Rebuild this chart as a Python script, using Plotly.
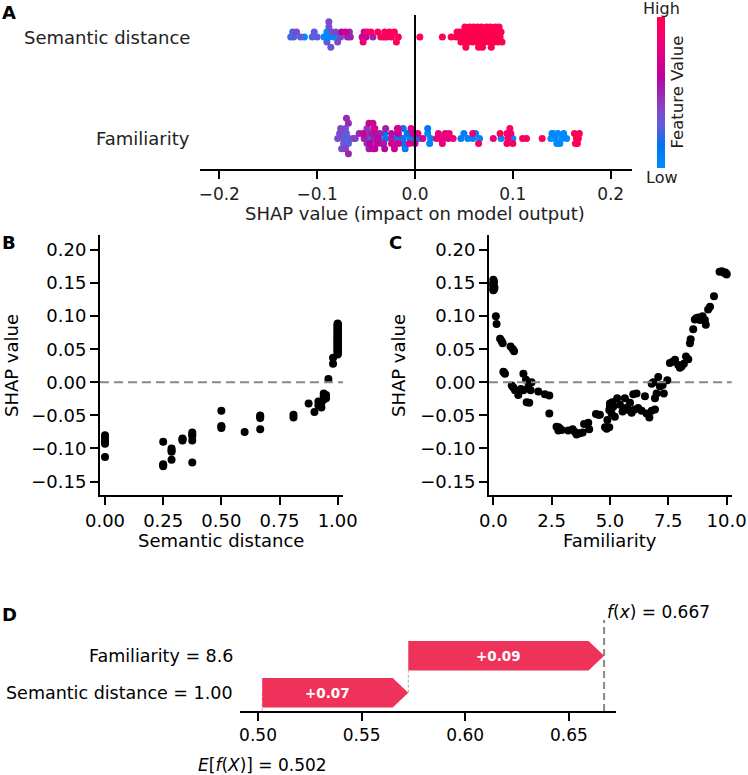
import numpy as np
import plotly.graph_objects as go

W, H = 748, 775
FONT = "DejaVu Sans"

# ---------------- DATA ----------------
# Panel B: (semantic distance value, SHAP value)
sem_points = [
    (0.0, -0.080), (0.0, -0.083), (0.0, -0.088), (0.0, -0.093), (0.0, -0.090), (0.0, -0.113),
    (0.25, -0.090), (0.25, -0.124), (0.25, -0.127), (0.25, -0.125),
    (0.286, -0.100), (0.286, -0.105), (0.286, -0.117), (0.286, -0.103),
    (0.333, -0.085), (0.333, -0.088), (0.333, -0.086),
    (0.375, -0.076), (0.375, -0.081), (0.375, -0.088), (0.375, -0.121), (0.375, -0.079),
    (0.5, -0.043), (0.5, -0.066), (0.5, -0.069), (0.5, -0.067),
    (0.6, -0.075),
    (0.667, -0.050), (0.667, -0.054), (0.667, -0.071), (0.667, -0.052),
    (0.81, -0.049), (0.81, -0.053),
    (0.875, -0.032), (0.90, -0.045), (0.917, -0.029), (0.917, -0.035),
    (0.93, -0.031), (0.93, -0.038), (0.94, -0.017), (0.94, -0.021), (0.94, -0.026),
    (0.95, -0.019), (0.95, -0.024), (0.96, 0.005), (0.98, 0.037), (0.98, 0.028),
    (1.0, 0.042), (1.0, 0.043), (1.0, 0.045), (1.0, 0.046), (1.0, 0.047), (1.0, 0.048),
    (1.0, 0.049), (1.0, 0.050), (1.0, 0.051), (1.0, 0.052), (1.0, 0.053), (1.0, 0.054),
    (1.0, 0.055), (1.0, 0.056), (1.0, 0.057), (1.0, 0.058), (1.0, 0.059), (1.0, 0.060),
    (1.0, 0.061), (1.0, 0.062), (1.0, 0.063), (1.0, 0.064), (1.0, 0.065), (1.0, 0.066),
    (1.0, 0.066), (1.0, 0.067), (1.0, 0.068), (1.0, 0.069), (1.0, 0.070), (1.0, 0.071),
    (1.0, 0.072), (1.0, 0.073), (1.0, 0.074), (1.0, 0.075), (1.0, 0.076), (1.0, 0.077),
    (1.0, 0.078), (1.0, 0.079), (1.0, 0.080), (1.0, 0.081), (1.0, 0.082), (1.0, 0.083),
    (1.0, 0.084), (1.0, 0.085), (1.0, 0.086), (1.0, 0.087), (1.0, 0.088), (1.0, 0.089),
]

# Panel C: (familiarity value, SHAP value)
fam_points = [
    (0.0, 0.155), (0.0, 0.150), (0.02, 0.146), (0.0, 0.139), (0.05, 0.143), (0.0, 0.148),
    (0.03, 0.152), (0.0, 0.141), (0.0, 0.145), (0.02, 0.140),
    (0.11, 0.100), (0.14, 0.088),
    (0.29, 0.066), (0.40, 0.059), (0.36, 0.062),
    (0.43, 0.016), (0.50, 0.013), (0.46, 0.015),
    (0.74, 0.054), (0.89, 0.047), (0.84, 0.050),
    (0.79, -0.005), (0.93, -0.012), (1.07, -0.019), (0.86, -0.008),
    (1.29, 0.013), (1.40, 0.004), (1.29, -0.012), (1.43, -0.030), (1.54, -0.031),
    (1.50, -0.007), (1.64, 0.000), (1.60, -0.012), (1.18, -0.010),
    (1.93, -0.014), (2.21, -0.018), (2.40, -0.020),
    (2.40, -0.047),
    (2.71, -0.067), (2.79, -0.073), (2.86, -0.070), (2.93, -0.072), (2.80, -0.068),
    (3.21, -0.073), (3.40, -0.071), (3.57, -0.079), (3.71, -0.077), (3.83, -0.076), (3.50, -0.075),
    (3.89, -0.063), (4.07, -0.061), (4.11, -0.071),
    (4.40, -0.048), (4.57, -0.049), (4.50, -0.049),
    (4.79, -0.068), (4.97, -0.068), (4.89, -0.057), (4.86, -0.070),
    (4.97, -0.042), (5.00, -0.032), (5.07, -0.047), (5.14, -0.037), (5.21, -0.052),
    (5.31, -0.024), (5.00, -0.036), (5.10, -0.030),
    (5.43, -0.034), (5.54, -0.044), (5.64, -0.024), (5.74, -0.038), (5.86, -0.031),
    (5.93, -0.046), (5.60, -0.041), (5.80, -0.042),
    (6.00, -0.018), (6.14, -0.017), (6.21, -0.039), (6.36, -0.043), (6.50, -0.021),
    (6.57, -0.047), (6.69, -0.053), (6.79, -0.043), (6.93, -0.041), (6.07, -0.041),
    (6.79, -0.002), (6.93, -0.024), (7.00, -0.017), (7.07, 0.008), (7.14, -0.006),
    (7.26, -0.004), (7.31, -0.017), (7.46, 0.003), (6.86, 0.000),
    (7.57, 0.029), (7.69, 0.031), (7.79, 0.034), (7.93, 0.026), (8.07, 0.024),
    (8.17, 0.028), (8.26, 0.039), (8.36, 0.035), (8.00, 0.022),
    (8.43, 0.059), (8.46, 0.065), (8.57, 0.080), (8.64, 0.095), (8.79, 0.098),
    (8.86, 0.094), (8.97, 0.100), (9.07, 0.094), (9.11, 0.087), (8.71, 0.097),
    (9.21, 0.110), (9.29, 0.114), (9.46, 0.130),
    (9.70, 0.167), (9.80, 0.168), (9.90, 0.165), (10.0, 0.163), (9.95, 0.166), (10.0, 0.164),
]

summary_rows = ["Familiarity", "Semantic distance"]   # row 0 (bottom), row 1 (top)

wf_features = ["Semantic distance", "Familiarity"]   # bottom -> top
wf_value_text = ["1.00", "8.6"]
wf_shap = [0.0705, 0.0945]
base_value = 0.502

a_xticks = [-0.2, -0.1, 0.0, 0.1, 0.2]
b_xticks = [0.0, 0.25, 0.5, 0.75, 1.0]
c_xticks = [0.0, 2.5, 5.0, 7.5, 10.0]
bc_yticks = [-0.15, -0.10, -0.05, 0.0, 0.05, 0.10, 0.15, 0.20]
d_xticks = [0.50, 0.55, 0.60, 0.65]

sem_value = [p[0] for p in sem_points]
sem_shap = [p[1] for p in sem_points]
fam_value = [p[0] for p in fam_points]
fam_shap = [p[1] for p in fam_points]


# ---------------- helpers ----------------
def PX(x):
    return x / W


def PY(y):
    return 1 - y / H


def fmt(v, d):
    return f"{v:.{d}f}".replace("-", "\u2212")


def lch_to_rgb(L, C, h):
    a = C * np.cos(h)
    b = C * np.sin(h)
    fy = (L + 16) / 116
    fx = fy + a / 500
    fz = fy - b / 200

    def finv(t):
        return t ** 3 if t ** 3 > 0.008856 else (t - 16 / 116) / 7.787

    X, Y, Z = 0.95047 * finv(fx), finv(fy), 1.08883 * finv(fz)
    r = 3.2404542 * X - 1.5371385 * Y - 0.4985314 * Z
    g = -0.9692660 * X + 1.8760108 * Y + 0.0415560 * Z
    bb = 0.0556434 * X - 0.2040259 * Y + 1.0572252 * Z

    def gam(c):
        c = 1.055 * c ** (1 / 2.4) - 0.055 if c > 0.0031308 else 12.92 * c
        return int(round(255 * min(max(c, 0), 1)))

    return f"rgb({gam(r)},{gam(g)},{gam(bb)})"


def shap_colorscale(n=21):
    blue = [54.0, 70.0, 4.6588]
    red = [54.0, 90.0, 0.35470565 + 2 * np.pi]
    lmid = 40.0
    cs = []
    for t in np.linspace(0, 1, n):
        L = blue[0] + (lmid - blue[0]) * (t / 0.5) if t <= 0.5 else lmid + (red[0] - lmid) * ((t - 0.5) / 0.5)
        C = blue[1] + (red[1] - blue[1]) * t
        hh = blue[2] + (red[2] - blue[2]) * t
        cs.append([float(t), lch_to_rgb(L, C, hh)])
    return cs


def beeswarm(vals, step, nbins=50):
    v = np.asarray(vals, float)
    quant = np.round(nbins * (v - v.min()) / (v.max() - v.min() + 1e-8))
    inds = np.argsort(quant, kind="stable")
    layer, last = 0, -1
    ys = np.zeros(len(v))
    for ind in inds:
        if quant[ind] != last:
            layer = 0
        ys[ind] = np.ceil(layer / 2) * ((layer % 2) * 2 - 1)
        layer += 1
        last = quant[ind]
    return ys * step


CS = shap_colorscale()
fig = go.Figure()

# ---------------- Panel A ----------------
STEP = 0.05
for row_idx, (vals, shaps) in enumerate([(fam_value, fam_shap), (sem_value, sem_shap)]):
    v = np.array(vals, float)
    s = np.array(shaps, float)
    norm = (v - v.min()) / (v.max() - v.min())
    offs = beeswarm(s, STEP)
    marker = dict(size=7, color=norm, colorscale=CS, cmin=0, cmax=1, showscale=(row_idx == 0))
    if row_idx == 0:
        marker["colorbar"] = dict(x=PX(657), xanchor="left", y=PY(92.5), yanchor="middle",
                                  len=151 / H, lenmode="fraction", thickness=8,
                                  thicknessmode="pixels", outlinewidth=0,
                                  showticklabels=False, ticks="", xpad=0, ypad=0)
    fig.add_trace(go.Scatter(x=s, y=row_idx + offs, mode="markers", xaxis="x", yaxis="y",
                             marker=marker, showlegend=False, hoverinfo="skip"))

# ---------------- Panel B / C ----------------
fig.add_trace(go.Scatter(x=sem_value, y=sem_shap, mode="markers", xaxis="x2", yaxis="y2",
                         marker=dict(size=8, color="black"), showlegend=False))
fig.add_trace(go.Scatter(x=fam_value, y=fam_shap, mode="markers", xaxis="x3", yaxis="y3",
                         marker=dict(size=8, color="black"), showlegend=False))

# ---------------- Panel D (waterfall) ----------------
BAR_COLOR = "#ee3259"
HL = 0.0075
HALF = 0.40
starts = [base_value]
for d in wf_shap:
    starts.append(starts[-1] + d)
fx = starts[-1]
annotations = []
for i, d in enumerate(wf_shap):
    x0, x1 = starts[i], starts[i + 1]
    xb = x1 - HL
    xs = [x0, xb, x1, xb, x0, x0]
    ys = [i - HALF, i - HALF, i, i + HALF, i + HALF, i - HALF]
    fig.add_trace(go.Scatter(x=xs, y=ys, mode="lines", fill="toself", fillcolor=BAR_COLOR,
                             line=dict(width=0, color=BAR_COLOR), xaxis="x4", yaxis="y4",
                             showlegend=False, hoverinfo="skip"))
    annotations.append(dict(x=(x0 + xb) / 2, y=i, xref="x4", yref="y4", xanchor="center",
                            yanchor="middle", text=f"<b>{d:+.2f}</b>",
                            showarrow=False, font=dict(family=FONT, size=13.5, color="white")))
    annotations.append(dict(x=PX(235), xref="paper", xanchor="right", y=i, yref="y4",
                            yanchor="middle",
                            text=f"{wf_features[i]} = {wf_value_text[i]}", showarrow=False,
                            font=dict(family=FONT, size=17.5, color="black")))

shapes = [
    dict(type="line", xref="x", yref="y domain", x0=0, x1=0, y0=0, y1=1,
         line=dict(color="#000", width=2)),
    dict(type="line", xref="x2 domain", yref="y2", x0=0, x1=1, y0=0, y1=0,
         line=dict(color="#888888", width=2, dash="9px,5px")),
    dict(type="line", xref="x3 domain", yref="y3", x0=0, x1=1, y0=0, y1=0,
         line=dict(color="#888888", width=2, dash="9px,5px")),
    dict(type="line", xref="x4", yref="y4", x0=fx, x1=fx, y0=-0.496, y1=1.97,
         line=dict(color="#888888", width=2, dash="7px,4px"), layer="below"),
    dict(type="line", xref="x4", yref="y4", x0=starts[1], x1=starts[1], y0=0, y1=1 - HALF,
         line=dict(color="#aaaaaa", width=1, dash="3px,2px"), layer="below"),
    dict(type="line", xref="x4", yref="y4", x0=base_value, x1=base_value, y0=-0.496, y1=0,
         line=dict(color="#bbbbbb", width=1, dash="3px,2px"), layer="below"),
]


def ann(text, x, y, size=18, color="black", angle=0, xanchor="center", bold=False):
    return dict(x=PX(x), y=PY(y), xref="paper", yref="paper", xanchor=xanchor, yanchor="middle",
                text=f"<b>{text}</b>" if bold else text, textangle=angle, showarrow=False,
                font=dict(family=FONT, size=size, color=color))


for lab, x, y in [("A", 0, 12), ("B", 0, 242), ("C", 387, 242), ("D", 0, 614)]:
    annotations.append(ann(lab, x, y, size=18, xanchor="left", bold=True))
for i, name in enumerate(summary_rows):
    annotations.append(dict(x=PX(192), xref="paper", xanchor="right", y=i, yref="y",
                            yanchor="middle", text=name, showarrow=False,
                            font=dict(family=FONT, size=18, color="#222")))
annotations += [
    ann("SHAP value (impact on model output)", 415, 213, 18, "#222"),
    ann("High", 661.5, 8, 16, "#222"),
    ann("Low", 661.5, 177, 16, "#222"),
    ann("Feature Value", 677, 92.5, 16.5, "#222", angle=-90),
    ann("SHAP value", 12, 366, 18, angle=-90),
    ann("SHAP value", 399, 366, 18, angle=-90),
    ann("Semantic distance", 221, 540, 18),
    ann("Familiarity", 610, 540, 18),
    dict(x=fx, xref="x4", xanchor="left", xshift=1, y=PY(612), yref="paper", yanchor="middle",
         text=f"<i>f</i>(<i>x</i>) = {fx:.3f}", showarrow=False,
         font=dict(family=FONT, size=17, color="black")),
    dict(x=base_value, xref="x4", xanchor="center", y=PY(765), yref="paper", yanchor="middle",
         text=f"<i>E</i>[<i>f</i>(<i>X</i>)] = {base_value:.3f}", showarrow=False,
         font=dict(family=FONT, size=17, color="black")),
]

AX = dict(showline=True, linewidth=2, linecolor="black", ticks="outside", ticklen=8, tickwidth=2,
          tickcolor="black", showgrid=False, zeroline=False,
          tickfont=dict(family=FONT, size=18, color="black"))
HID = dict(showline=False, showticklabels=False, showgrid=False, zeroline=False, ticks="")

fig.update_layout(
    width=W, height=H, margin=dict(l=0, r=0, t=0, b=0, autoexpand=False),
    plot_bgcolor="white", paper_bgcolor="white",
    font=dict(family=FONT, color="black"),
    xaxis=dict(AX, domain=[PX(200), PX(631.7)], range=[-0.2197, 0.2215], anchor="y",
               tickvals=a_xticks, ticktext=[fmt(v, 1) for v in a_xticks],
               tickfont=dict(family=FONT, size=17, color="#222")),
    yaxis=dict(HID, domain=[PY(169.3), PY(15)], range=[-0.303, 1.217], anchor="x"),
    xaxis2=dict(AX, domain=[PX(100), PX(343)], range=[-0.0215, 1.0228], anchor="y2",
                tickvals=b_xticks, ticktext=[fmt(v, 2) for v in b_xticks]),
    yaxis2=dict(AX, domain=[PY(495), PY(235)], range=[-0.1703, 0.2226], anchor="x2",
                tickvals=bc_yticks, ticktext=[fmt(v, 2) for v in bc_yticks]),
    xaxis3=dict(AX, domain=[PX(489), PX(731.7)], range=[-0.185, 10.22], anchor="y3",
                tickvals=c_xticks, ticktext=[fmt(v, 1) for v in c_xticks]),
    yaxis3=dict(AX, domain=[PY(495), PY(235)], range=[-0.1703, 0.2226], anchor="x3",
                tickvals=bc_yticks, ticktext=[fmt(v, 2) for v in bc_yticks]),
    xaxis4=dict(AX, domain=[PX(240), PX(615.7)], range=[0.4913, 0.6726], anchor="y4",
                tickvals=d_xticks, ticktext=[fmt(v, 2) for v in d_xticks],
                tickfont=dict(family=FONT, size=17, color="black")),
    yaxis4=dict(HID, domain=[PY(711), PY(611)], range=[-0.496, 2.214], anchor="x4"),
    shapes=shapes,
    annotations=annotations,
)

fig.write_html("out.html")
